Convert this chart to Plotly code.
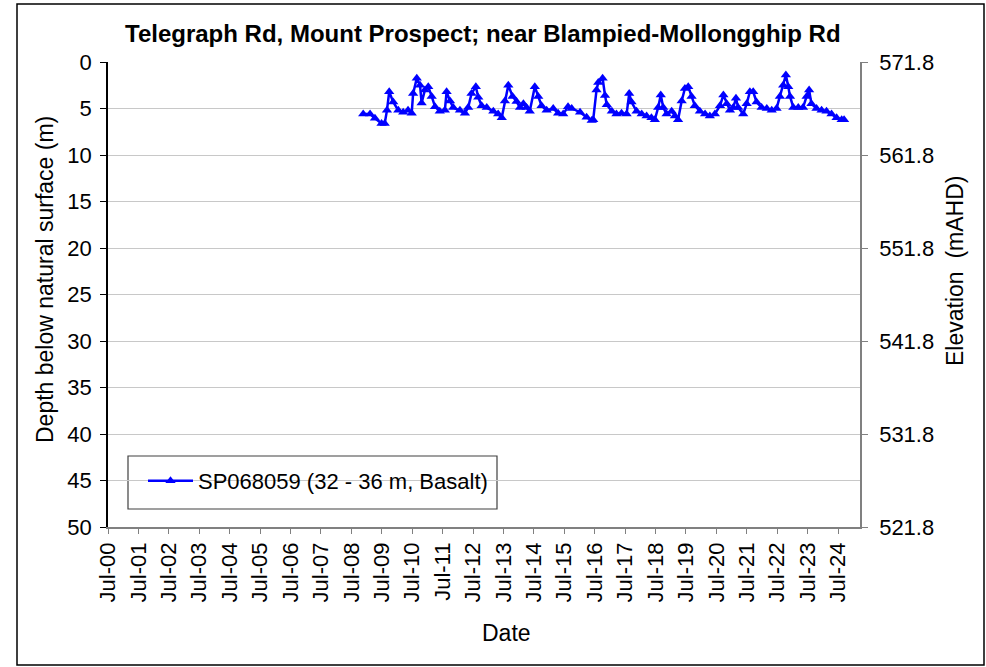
import plotly.graph_objects as go

# ---- Data ----
dates = [
    "2008-11-20", "2009-02-10", "2009-04-10", "2009-06-28", "2009-08-05", "2009-09-01", "2009-09-28",
    "2009-11-15", "2010-01-15", "2010-03-15", "2010-05-12", "2010-06-25", "2010-07-12", "2010-08-25",
    "2010-10-03", "2010-10-22", "2010-12-01", "2011-01-10", "2011-02-20", "2011-04-01", "2011-05-28",
    "2011-07-28", "2011-08-18", "2011-09-28", "2011-11-06", "2012-01-25", "2012-03-25", "2012-05-03",
    "2012-06-12", "2012-08-03", "2012-09-01", "2012-10-12", "2012-12-12", "2013-03-01", "2013-04-28",
    "2013-06-10", "2013-07-18", "2013-08-28", "2013-10-18", "2013-12-05", "2014-01-15", "2014-02-25",
    "2014-04-03", "2014-05-12", "2014-07-12", "2014-08-22", "2014-10-01", "2014-12-01", "2015-02-18",
    "2015-04-18", "2015-06-18", "2015-08-15", "2015-09-28", "2016-01-06", "2016-03-25", "2016-05-25",
    "2016-06-12", "2016-07-22", "2016-08-12", "2016-10-03", "2016-11-01", "2016-11-22", "2017-01-22",
    "2017-03-18", "2017-05-18", "2017-07-18", "2017-08-18", "2017-09-15", "2017-11-15", "2018-01-15",
    "2018-03-15", "2018-05-12", "2018-06-22", "2018-08-01", "2018-09-01", "2018-10-01", "2018-11-10",
    "2019-01-10", "2019-02-18", "2019-03-28", "2019-05-10", "2019-06-18", "2019-07-28", "2019-09-06",
    "2019-10-15", "2019-12-15", "2020-02-15", "2020-04-12", "2020-06-12", "2020-08-12", "2020-09-22",
    "2020-11-01", "2020-12-10", "2021-01-18", "2021-02-20", "2021-03-18", "2021-05-18", "2021-06-28",
    "2021-08-06", "2021-09-15", "2021-10-25", "2021-12-25", "2022-02-25", "2022-04-25", "2022-06-22",
    "2022-08-01", "2022-09-10", "2022-10-12", "2022-11-10", "2022-12-01", "2023-01-10", "2023-03-10",
    "2023-05-06", "2023-06-18", "2023-07-18", "2023-08-15", "2023-10-15", "2023-12-15", "2024-02-12",
    "2024-04-12", "2024-06-12", "2024-08-12", "2024-09-10",
]
depth_m = [
    5.6, 5.6, 6.05, 6.6, 6.6, 5.2, 3.2,
    4.3, 5.2, 5.4, 5.2, 5.5, 3.4, 1.75,
    2.5, 4.4, 3.0, 2.65, 3.7, 4.8, 5.3,
    5.2, 3.2, 4.2, 4.9, 5.2, 5.5, 4.9,
    3.4, 2.65, 3.8, 4.7, 4.9, 5.3, 5.6,
    6.0, 4.2, 2.5, 3.7, 4.25, 4.9, 4.5,
    4.9, 5.3, 2.65, 3.7, 4.7, 5.2, 5.0,
    5.5, 5.6, 4.8, 5.0, 5.4, 5.95, 6.3,
    6.2, 3.0, 2.2, 1.75, 3.6, 4.6, 5.3,
    5.6, 5.5, 5.6, 3.4, 4.3, 5.3, 5.6,
    5.8, 6.0, 6.2, 4.9, 3.55, 4.9, 5.6,
    5.3, 5.8, 6.2, 4.2, 2.85, 2.65, 3.7,
    4.7, 5.3, 5.6, 5.8, 5.6, 4.7, 3.55,
    4.5, 5.2, 4.9, 3.9, 4.9, 5.6, 4.5,
    3.2, 3.2, 4.3, 4.9, 5.0, 5.2, 5.0,
    3.7, 2.5, 1.4, 2.65, 3.7, 4.9, 4.9,
    4.9, 3.7, 3.0, 4.5, 5.0, 5.2, 5.3,
    5.6, 6.0, 6.2, 6.2,
]
series_name = "SP068059 (32 - 36 m, Basalt)"
surface_elev = 571.8
depth_ticks = [0, 5, 10, 15, 20, 25, 30, 35, 40, 45, 50]
elev_ticks = [521.8, 531.8, 541.8, 551.8, 561.8, 571.8]
title_text = "Telegraph Rd, Mount Prospect; near Blampied-Mollongghip Rd"

FONT = "Liberation Sans, Arial, sans-serif"
W, H = 986, 667
L, R, T, B = 108, 860, 62, 527  # plot area in pixels


def px(x):
    return (x - L) / (R - L)


def py(y):
    return (B - y) / (B - T)


fig = go.Figure()
fig.add_trace(go.Scatter(
    x=dates, y=depth_m, name=series_name, mode="lines+markers",
    line=dict(color="#0000FF", width=2.5),
    marker=dict(symbol="triangle-up", size=9, color="#0000FF"),
))
fig.add_trace(go.Scatter(
    x=dates, y=[surface_elev - d for d in depth_m], yaxis="y2",
    mode="lines", line=dict(width=0, color="rgba(0,0,0,0)"),
    showlegend=False, hoverinfo="skip",
))

TICK = 22
fig.update_layout(
    width=W, height=H,
    margin=dict(l=L, r=W - R, t=T, b=H - B),
    paper_bgcolor="white", plot_bgcolor="white",
    font=dict(family=FONT, size=TICK, color="#000000"),
    showlegend=True,
    legend=dict(x=px(143), y=py(460), xanchor="left", yanchor="top",
                bgcolor="rgba(0,0,0,0)", borderwidth=0, itemwidth=45,
                font=dict(size=TICK)),
    xaxis=dict(
        type="date", range=["2000-07-01", "2025-03-20"],
        tick0="2000-07-01", dtick="M12", tickformat="%b-%y",
        tickangle=-90, ticks="outside", ticklen=5, tickcolor="#808080",
        showline=True, linecolor="#808080", linewidth=1.5,
        showgrid=False, zeroline=False, tickfont=dict(size=TICK),
        automargin=False,
    ),
    yaxis=dict(
        range=[50, 0], tickvals=depth_ticks, ticks="outside", ticklen=6,
        tickcolor="#000000", showline=True, linecolor="#000000", linewidth=1.5,
        showgrid=True, gridcolor="#C8C8C8", gridwidth=1, zeroline=False,
        tickfont=dict(size=TICK), automargin=False, ticklabelstandoff=4,
    ),
    yaxis2=dict(
        range=[elev_ticks[0], elev_ticks[-1]], overlaying="y", side="right",
        tickvals=elev_ticks, ticktext=[f"{v:.1f}" for v in elev_ticks],
        ticks="outside", ticklen=6, tickcolor="#808080",
        showline=True, linecolor="#808080", linewidth=1.5,
        showgrid=False, zeroline=False, tickfont=dict(size=TICK),
        automargin=False, ticklabelstandoff=7,
    ),
    shapes=[
        dict(type="rect", xref="paper", yref="paper",
             x0=px(17), x1=px(984), y0=py(665), y1=py(4),
             line=dict(color="#000000", width=1.5), fillcolor="rgba(0,0,0,0)", layer="below"),
        dict(type="rect", xref="paper", yref="paper",
             x0=px(128), x1=px(497), y0=py(509), y1=py(456),
             line=dict(color="#404040", width=1.2), fillcolor="white", layer="below"),
    ],
    annotations=[
        dict(text=f"<b>{title_text}</b>", xref="paper", yref="paper",
             x=px(483), y=py(34), xanchor="center", yanchor="middle",
             showarrow=False, font=dict(size=24, family=FONT)),
        dict(text="Depth below natural surface (m)", xref="paper", yref="paper",
             x=px(45), y=py(280), textangle=-90, xanchor="center", yanchor="middle",
             showarrow=False, font=dict(size=23)),
        dict(text="Elevation  (mAHD)", xref="paper", yref="paper",
             x=px(955), y=py(271), textangle=-90, xanchor="center", yanchor="middle",
             showarrow=False, font=dict(size=23)),
        dict(text="Date", xref="paper", yref="paper",
             x=px(506), y=py(633), xanchor="center", yanchor="middle",
             showarrow=False, font=dict(size=23)),
    ],
)

fig.write_html(
    "out.html",
    config={"displayModeBar": False},
    post_script="document.body.style.margin='0px';document.body.style.overflow='hidden';",
)
